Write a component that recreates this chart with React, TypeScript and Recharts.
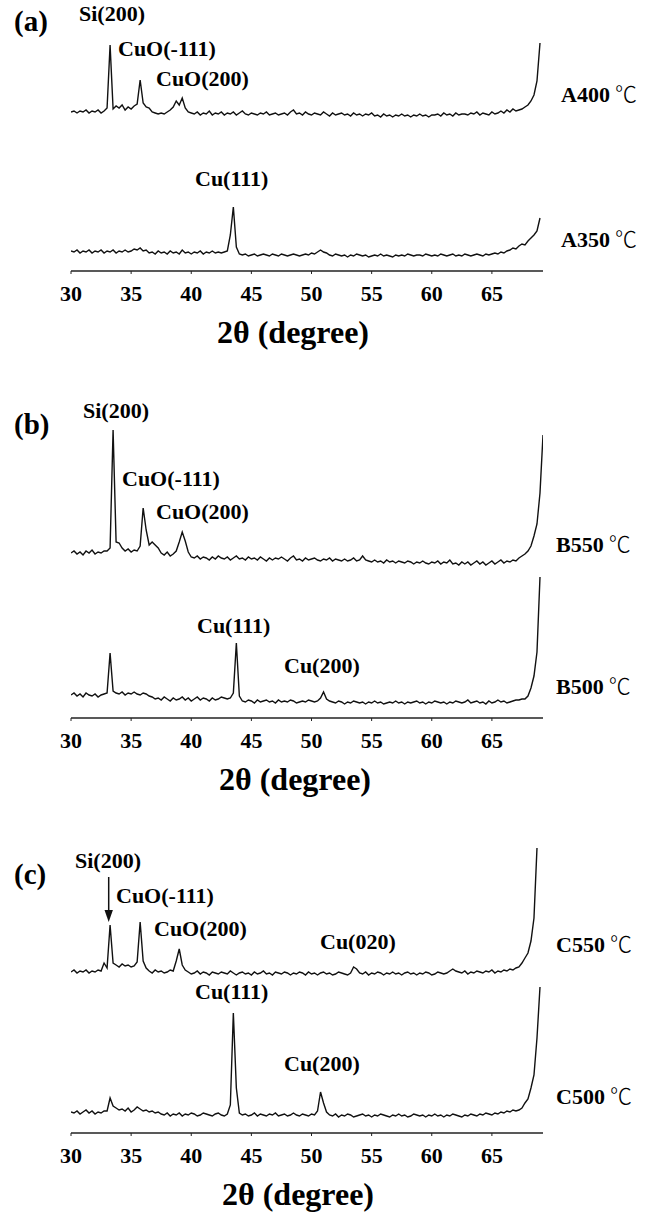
import React from 'react';
import { LineChart, Line, XAxis, YAxis } from 'recharts';

// XRD scan: 2θ from 30° in 0.25° steps; intensities (a.u.)
const SCAN_START = 30;
const SCAN_STEP = 0.25;
const xTicks = [30, 35, 40, 45, 50, 55, 60, 65];
const X_DOMAIN: [number, number] = [30, 69.25];

// (a) A400 ℃
const a400 = [
  159, 160, 158, 160, 159, 161, 158, 160, 159, 161, 158, 160,
  163, 226, 162, 165, 163, 166, 161, 164, 162, 165, 167,
  191, 168, 164, 163, 159, 158, 157, 158, 157, 159, 161, 164, 170, 166, 173, 163, 159, 158,
  157, 159, 156, 158, 157, 160, 156, 158, 157, 159,
  156, 158, 157, 159, 156, 158, 160, 157, 156, 158,
  157, 156, 158, 157, 159, 156, 157, 158, 156, 157,
  158, 156, 159, 161, 157, 158, 156, 159, 157, 156,
  158, 157, 156, 159, 157, 155, 158, 156, 157, 158,
  156, 157, 155, 158, 156, 157, 155, 157, 156, 158,
  155, 156, 154, 157, 155, 156, 154, 156, 155, 157,
  155, 156, 154, 156, 155, 157, 155, 156, 154, 156,
  156, 157, 155, 158, 156, 157, 155, 158, 156, 157,
  157, 156, 158, 157, 159, 156, 158, 157, 156, 159,
  157, 158, 160, 158, 161, 159, 162, 160, 161,
  162, 164, 166, 170, 176, 190, 228,
];

// (a) A350 ℃
const a350 = [
  20, 19, 21, 18, 20, 19, 21, 18, 20, 19, 21, 18,
  20, 19, 21, 18, 20, 19, 21, 19, 20, 22, 21,
  23, 20, 21, 18, 19, 17, 20, 18, 19, 17, 20, 18, 19, 17, 21, 18, 19, 17,
  19, 18, 20, 17, 19, 18, 20, 18, 19, 18, 19, 20,
  36, 64, 24, 17,
  16, 17, 15, 16, 17, 15, 16, 17, 16, 15, 17, 16, 15, 17, 16, 15, 16, 17, 16, 15, 16, 17, 16, 18, 17, 19,
  21, 19, 18,
  16, 15, 17, 16, 15, 16, 14, 16, 15, 17,
  16, 15, 16, 14, 15, 16, 15, 17, 15, 16,
  15, 14, 16, 15, 16, 15, 17, 16, 15, 16,
  16, 15, 17, 16, 15, 16, 15, 17, 16, 15,
  16, 17, 15, 16, 15, 17, 16, 15, 16, 17,
  16, 15, 17, 16,
  17, 18, 17, 19, 18, 20, 21, 23, 22, 25, 27, 26, 30, 33, 36, 40, 53,
];

// (b) B550 ℃
const b550 = [
  165, 167, 164, 166, 163, 167, 165, 168, 164, 166, 165, 167, 167,
  170, 288, 176, 175,
  170, 167, 169, 166, 168, 167,
  172, 210, 188, 173, 176, 173, 170,
  165, 163, 166, 162, 164,
  167, 176, 186, 177, 166, 161,
  160, 162, 159, 161, 160, 158, 161, 159, 162, 160,
  159, 161, 158, 160, 162, 159, 160, 158, 161, 159,
  160, 158, 161, 159, 157, 160, 158, 160, 159, 161,
  159, 157, 160, 162, 158, 159, 157, 160, 158, 159,
  160, 158, 157, 159, 158, 160, 157, 159, 158, 157,
  159, 157, 158, 160, 157, 158, 162, 158, 157, 156,
  158, 156, 157, 155, 158, 156, 157, 155, 157, 156,
  155, 157, 156, 154, 156, 155, 157, 155, 154, 156,
  155, 157, 154, 156, 155, 158, 154, 155, 153, 156,
  154, 156, 153, 155, 157, 154, 156, 153, 155, 157,
  154, 156, 158, 155, 157, 156, 158,
  157, 160, 162, 164, 167, 172, 182, 194, 225, 283,
];

// (b) B500 ℃
const b500 = [
  23, 25, 22, 24, 21, 25, 23, 22, 24, 21, 23, 24,
  25, 65, 27,
  25, 24, 26, 23, 25, 24, 26, 24, 23, 25, 24, 22,
  21, 19, 20, 18, 21, 19, 17, 20, 18, 19, 21, 18, 20, 17, 19, 21, 18, 20, 19, 17, 20, 18, 19, 21, 20, 19,
  20, 25, 75, 22,
  17, 16, 18, 17, 15, 18, 16, 17, 18, 16, 17, 15, 18, 16, 17, 16, 18, 17, 15, 16, 17, 16, 18, 17, 16, 17,
  20, 26, 19,
  17, 16, 15, 17, 16, 14, 16, 15, 17, 16,
  15, 16, 14, 16, 15, 17, 15, 16, 14, 15,
  16, 15, 17, 15, 16, 14, 16, 15, 16, 17,
  15, 16, 14, 16, 15, 17, 16, 15, 16, 14,
  16, 15, 17, 16, 15, 16, 18, 15, 16, 17,
  15, 16, 14, 17, 15, 16, 18, 16, 17, 15,
  16, 17, 18,
  18, 19, 19, 22, 30, 42, 66, 141,
];

// (c) C550 ℃
const c550 = [
  161, 163, 160, 162, 161, 163, 160, 162, 161, 163, 162,
  170, 165, 208, 170,
  168, 166, 169, 167, 168, 166, 167,
  171, 211, 172, 165,
  162, 160, 163, 161, 162, 160, 161, 163, 162,
  172, 184, 168, 163,
  161, 159, 160, 162, 159, 161, 160, 158, 161, 160,
  159, 161, 160, 159, 162, 160, 158, 160, 161, 159,
  160, 158, 161, 159, 160, 162, 159, 160, 158, 161,
  160, 159, 161, 160, 158, 160, 159, 161, 160, 158,
  161, 159, 160, 158, 160, 161, 159, 160, 158, 159,
  161, 160, 159, 158, 160,
  166, 164,
  160, 159, 161, 158, 160, 159, 161, 160, 158, 160,
  159, 161, 159, 160, 158, 160, 161, 159, 160, 158,
  160, 159, 161, 160, 158, 159, 161, 160, 159, 160,
  162, 164, 162,
  161, 160, 162, 159, 161, 160, 162, 161, 160, 162,
  161, 163, 160, 162, 161, 163, 162, 164, 163, 165, 166,
  170, 175, 180, 192, 215, 285,
];

// (c) C500 ℃
const c500 = [
  21, 20, 22, 19, 21, 23, 20, 22, 19, 21, 20, 22,
  22, 35, 27,
  25, 23, 24, 22, 25, 21, 23, 26, 24, 22, 23, 21, 22, 20, 21,
  19, 18, 20, 17, 19, 18, 20, 17, 19, 18, 20, 19, 17, 18, 20, 19, 18, 17, 19, 20, 18, 17, 19,
  28, 120, 45, 20,
  18, 19, 17, 18, 20, 17, 19, 18, 17, 19, 18, 20, 17, 18, 19, 17, 18, 20, 18, 17, 19, 18, 17, 19, 18,
  22, 41, 30, 21,
  18, 17, 19, 16, 18, 17, 19, 18, 16, 17,
  18, 19, 17, 18, 16, 18, 17, 19, 18, 17,
  16, 18, 17, 19, 17, 18, 16, 17, 19, 18,
  17, 18, 16, 18, 17, 19, 17, 18, 16, 18,
  17, 19, 18, 17, 16, 18, 17, 19, 18, 17,
  19, 18, 20, 19, 18,
  20, 19, 21, 20, 22, 21, 23, 22,
  23, 25, 30, 34, 45, 58, 95, 146,
];

const toRows = (vals: number[]) => vals.map((y, i) => ({ x: SCAN_START + i * SCAN_STEP, y }));

const FONT = '"Liberation Serif", "Times New Roman", Times, serif';
const CJK = '"Noto Sans CJK SC", "DejaVu Sans", sans-serif';
const XAXIS_H = 40;
const INK = '#111';

type PanelProps = { top: number; axisY: number; upper: number[]; lower: number[] };

function Panel({ top, axisY, upper, lower }: PanelProps) {
  const plotH = axisY - top;
  return (
    <div style={{ position: 'absolute', left: 0, top }}>
      <LineChart
        width={652}
        height={plotH + XAXIS_H}
        margin={{ top: 0, right: 109, bottom: 0, left: 71 }}
        style={{ fontFamily: FONT }}
      >
        <XAxis
          type="number"
          dataKey="x"
          domain={X_DOMAIN}
          ticks={xTicks}
          interval={0}
          allowDataOverflow
          height={XAXIS_H}
          axisLine={{ stroke: '#222', strokeWidth: 1.5 }}
          tickLine={{ stroke: '#222', strokeWidth: 1 }}
          tickSize={3}
          tickMargin={11}
          tick={{ fill: '#000', fontSize: 22, fontWeight: 'bold', fontFamily: FONT }}
        />
        <YAxis hide type="number" domain={[0, plotH]} allowDataOverflow />
        <Line
          data={toRows(upper)}
          dataKey="y"
          type="linear"
          stroke={INK}
          strokeWidth={1.4}
          dot={false}
          isAnimationActive={false}
        />
        <Line
          data={toRows(lower)}
          dataKey="y"
          type="linear"
          stroke={INK}
          strokeWidth={1.4}
          dot={false}
          isAnimationActive={false}
        />
      </LineChart>
    </div>
  );
}

const lbl = { fontWeight: 'bold' as const, fontSize: 22, fill: '#000', style: { fontFamily: FONT } };

function Temp({ x, y, name }: { x: number; y: number; name: string }) {
  return (
    <text x={x} y={y} {...lbl}>
      {name}
      <tspan dx={5} style={{ fontFamily: CJK }} fontWeight={300} fontSize={22}>℃</tspan>
    </text>
  );
}

export default function App() {
  return (
    <div style={{ position: 'absolute', left: 0, top: 0, width: 652, height: 1218, background: '#fff', fontFamily: FONT }}>
      <Panel top={0} axisY={271} upper={a400} lower={a350} />
      <Panel top={400} axisY={718} upper={b550} lower={b500} />
      <Panel top={820} axisY={1133} upper={c550} lower={c500} />
      <svg
        width={652}
        height={1218}
        style={{ position: 'absolute', left: 0, top: 0, pointerEvents: 'none' }}
      >
        {/* panel (a) */}
        <text x={14} y={31} {...lbl} fontSize={29}>(a)</text>
        <text x={79} y={21} {...lbl}>Si(200)</text>
        <text x={118} y={56} {...lbl}>CuO(-111)</text>
        <text x={156} y={86} {...lbl}>CuO(200)</text>
        <text x={195} y={186} {...lbl}>Cu(111)</text>
        <Temp x={561} y={102} name="A400" />
        <Temp x={561} y={247} name="A350" />
        <text x={293} y={343} {...lbl} fontSize={32} textAnchor="middle">2θ (degree)</text>

        {/* panel (b) */}
        <text x={14} y={434} {...lbl} fontSize={29}>(b)</text>
        <text x={83} y={418} {...lbl}>Si(200)</text>
        <text x={122} y={486} {...lbl}>CuO(-111)</text>
        <text x={156} y={519} {...lbl}>CuO(200)</text>
        <text x={197} y={633} {...lbl}>Cu(111)</text>
        <text x={284} y={673} {...lbl}>Cu(200)</text>
        <Temp x={556} y={552} name="B550" />
        <Temp x={556} y={694} name="B500" />
        <text x={295} y={790} {...lbl} fontSize={32} textAnchor="middle">2θ (degree)</text>

        {/* panel (c) */}
        <text x={14} y={884} {...lbl} fontSize={29}>(c)</text>
        <text x={75} y={868} {...lbl}>Si(200)</text>
        <line x1={108.7} y1={877} x2={108.7} y2={912} stroke={INK} strokeWidth={1.5} />
        <polygon points="104.5,910 112.9,910 108.7,922" fill={INK} />
        <text x={116} y={903} {...lbl}>CuO(-111)</text>
        <text x={154} y={936} {...lbl}>CuO(200)</text>
        <text x={320} y={949} {...lbl}>Cu(020)</text>
        <text x={195} y={999} {...lbl}>Cu(111)</text>
        <text x={284} y={1071} {...lbl}>Cu(200)</text>
        <Temp x={556} y={952} name="C550" />
        <Temp x={556} y={1104} name="C500" />
        <text x={298} y={1205} {...lbl} fontSize={32} textAnchor="middle">2θ (degree)</text>
      </svg>
    </div>
  );
}
